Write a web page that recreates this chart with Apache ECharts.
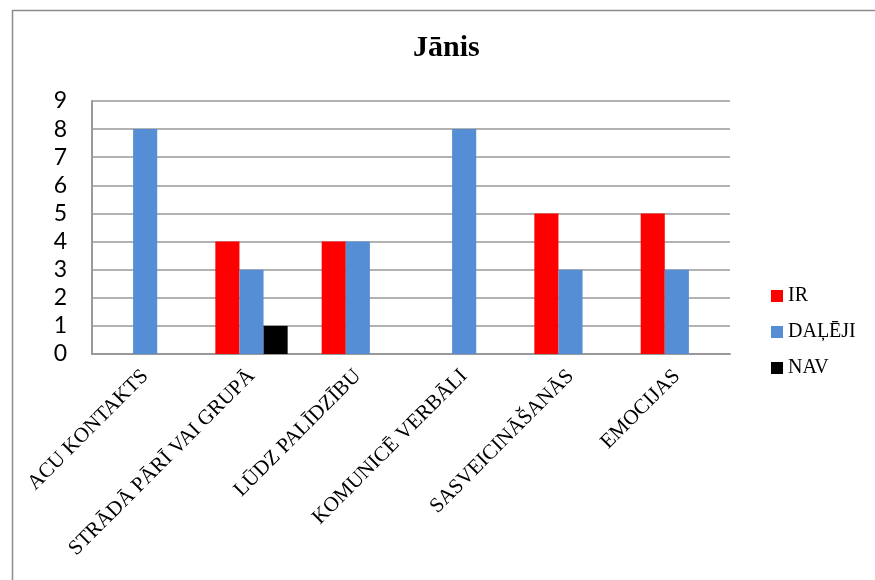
<!DOCTYPE html>
<html>
<head>
<meta charset="utf-8">
<script src="https://cdn.jsdelivr.net/npm/echarts@6/dist/echarts.min.js"></script>
<style>
  html, body { margin: 0; padding: 0; background: #fff; }
  #chart { width: 875px; height: 580px; }
</style>
</head>
<body>
<div id="chart"></div>
<script>
// Skill categories and counts per rating
const categories = ['ACU KONTAKTS', 'STRĀDĀ PĀRĪ VAI GRUPĀ', 'LŪDZ PALĪDZĪBU', 'KOMUNICĒ VERBĀLI', 'SASVEICINĀŠANĀS', 'EMOCIJAS'];
const seriesNames = ['IR', 'DAĻĒJI', 'NAV'];
const irValues = [0, 4, 4, 0, 5, 5];
const dalejiValues = [8, 3, 4, 8, 3, 3];
const navValues = [0, 1, 0, 0, 0, 0];
const yTicks = { min: 0, max: 9, interval: 1 };
const colors = ['#ff0000', '#558ed5', '#000000'];

const chart = echarts.init(document.getElementById('chart'));
const serif = '"Liberation Serif", "Times New Roman", serif';

chart.setOption({
  animation: false,
  backgroundColor: '#ffffff',
  title: {
    text: 'Jānis',
    left: 408,
    top: 28,
    textStyle: { fontFamily: serif, fontWeight: 'bold', fontSize: 30, color: '#000' }
  },
  graphic: [{
    type: 'rect',
    shape: { x: 12.5, y: 10.5, width: 900, height: 600 },
    style: { fill: 'none', stroke: '#8c8c8c', lineWidth: 1.5 },
    silent: true
  }],
  legend: {
    orient: 'vertical',
    left: 766,
    top: 281,
    itemWidth: 12,
    itemHeight: 12,
    itemGap: 16,
    icon: 'rect',
    data: seriesNames,
    textStyle: { fontFamily: serif, fontSize: 20, color: '#000' }
  },
  grid: { left: 92, right: 145, top: 101, bottom: 226, containLabel: false },
  xAxis: {
    type: 'category',
    data: categories,
    axisLine: { lineStyle: { color: '#999', width: 2 } },
    axisTick: { show: false },
    axisLabel: {
      rotate: 45,
      interval: 0,
      margin: 19,
      fontFamily: serif,
      fontSize: 21,
      color: '#000'
    }
  },
  yAxis: {
    type: 'value',
    min: yTicks.min,
    max: yTicks.max,
    interval: yTicks.interval,
    axisLine: { show: true, lineStyle: { color: '#999', width: 2 } },
    axisTick: { show: false },
    splitLine: { lineStyle: { color: '#999', width: 1.5 } },
    axisLabel: {
      margin: 25,
      fontFamily: 'Lato, "Open Sans", sans-serif',
      fontSize: 23,
      color: '#000'
    }
  },
  series: [irValues, dalejiValues, navValues].map((vals, i) => ({
    name: seriesNames[i],
    type: 'bar',
    data: vals,
    barGap: '0%',
    barCategoryGap: '32%',
    itemStyle: { color: colors[i] }
  }))
});
</script>
</body>
</html>
